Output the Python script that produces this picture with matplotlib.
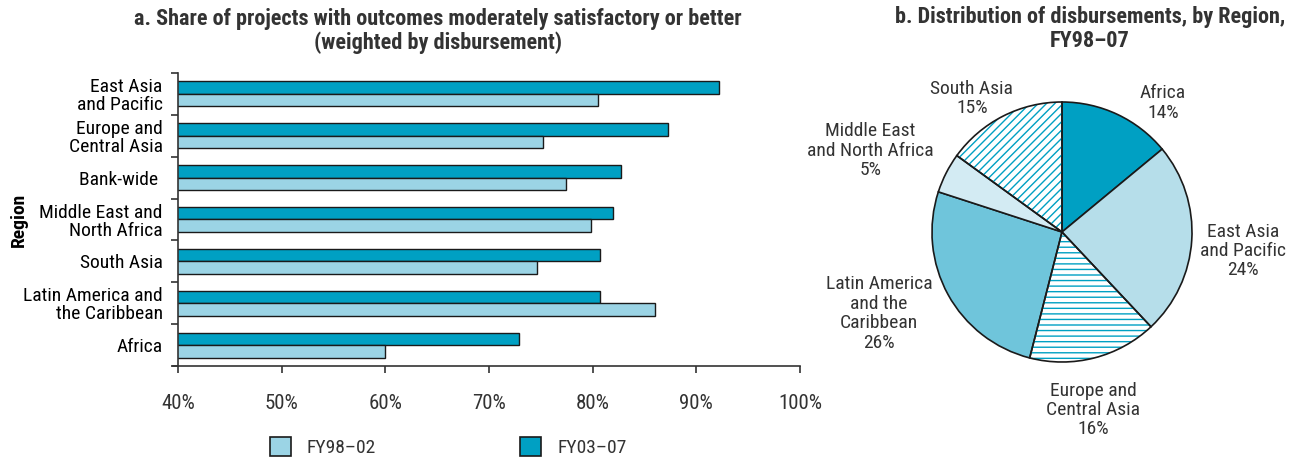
import numpy as np
import matplotlib
matplotlib.use("Agg")
import matplotlib.pyplot as plt
from matplotlib.patches import Wedge, Patch

plt.rcParams["font.family"] = ["Roboto Condensed", "DejaVu Sans"]
plt.rcParams["text.color"] = "#333333"
plt.rcParams["hatch.linewidth"] = 1.0

# ---- panel a data (top to bottom) ----
regions = [
    "East Asia\nand Pacific",
    "Europe and\nCentral Asia",
    "Bank-wide ",
    "Middle East and\nNorth Africa",
    "South Asia",
    "Latin America and\nthe Caribbean",
    "Africa",
]
fy98_02 = [80.5, 75.2, 77.4, 79.8, 74.6, 86.0, 60.0]
fy03_07 = [92.2, 87.3, 82.7, 82.0, 80.7, 80.7, 72.9]
x_ticks = [40, 50, 60, 70, 80, 90, 100]

# ---- panel b data (clockwise from top) ----
pie_labels = [
    "Africa\n14%",
    "East Asia\nand Pacific\n24%",
    "Europe and\nCentral Asia\n16%",
    "Latin America\nand the\nCaribbean\n26%",
    "Middle East\nand North Africa\n5%",
    "South Asia\n15%",
]
pie_shares = [14, 24, 16, 26, 5, 15]

DARK = "#00A0C3"
LIGHT = "#9BD4E5"
pie_colors = ["#00A0C3", "#B6DEEA", "white", "#6FC5DB", "#D3EBF3", "white"]
pie_hatch = [None, None, "---", None, None, "////"]
# label anchor (radius, angle deg) per slice
label_pos = [(1.26, 52), (1.40, -6), (1.39, -80), (1.54, 204), (1.60, 157), (1.24, 124)]

FS = 14
FS_TICK = 15
FS_TITLE = 16
W, H = 1293, 461
fig = plt.figure(figsize=(W / 100, H / 100), dpi=100)

# ---------------- panel a ----------------
ax = fig.add_axes([178 / W, 1 - 366 / H, (800 - 178) / W, (366 - 73) / H])
n = len(regions)
y = np.arange(n)
bh = 0.3
ax.barh(y - bh / 2, fy03_07, height=bh, color=DARK, edgecolor="#1a1a1a", linewidth=1.0)
ax.barh(y + bh / 2, fy98_02, height=bh, color=LIGHT, edgecolor="#1a1a1a", linewidth=1.0)
ax.set_xlim(40, 100)
ax.set_ylim(n - 0.5, -0.5)
ax.set_xticks(x_ticks)
ax.set_xticklabels([f"{v}%" for v in x_ticks], fontsize=FS_TICK)
ax.set_yticks(y)
ax.set_yticklabels(regions, fontsize=FS, linespacing=1.0)
ax.set_yticks(np.arange(n + 1) - 0.5, minor=True)
ax.tick_params(axis="y", which="major", length=0, pad=11)
ax.tick_params(axis="y", which="minor", length=5, width=1.2, color="#333333")
ax.tick_params(axis="x", length=5, width=1.2, pad=15, colors="#333333")
for s in ["top", "right"]:
    ax.spines[s].set_visible(False)
for s in ["left", "bottom"]:
    ax.spines[s].set_linewidth(1.2)
    ax.spines[s].set_color("#333333")
ax.spines["bottom"].set_bounds(39.5, 100)
ax.set_ylabel("Region", fontsize=FS, fontweight="bold")
ax.yaxis.set_label_coords(-0.241, 0.5)
fig.text(438 / W, 1 - 31 / H,
         "a. Share of projects with outcomes moderately satisfactory or better\n(weighted by disbursement)",
         ha="center", va="center", fontsize=FS_TITLE, fontweight="bold", linespacing=1.05)

handles = [Patch(facecolor=LIGHT, edgecolor="#1a1a1a", linewidth=1.2),
           Patch(facecolor=DARK, edgecolor="#1a1a1a", linewidth=1.2)]
fig.legend(handles, ["FY98–02", "FY03–07"], loc="center left",
           bbox_to_anchor=(270 / W, 1 - 447 / H), ncol=2, frameon=False,
           fontsize=FS, handlelength=1.1, handleheight=1.1, handletextpad=0.8,
           columnspacing=7.4, borderpad=0, borderaxespad=0)

# ---------------- panel b ----------------
cx, cy, r = 1062, 232, 130
pax = fig.add_axes([(cx - 230) / W, 0, 460 / W, 1])
wedges, _ = pax.pie(pie_shares, colors=pie_colors, startangle=90, counterclock=False,
                    wedgeprops=dict(edgecolor="#1a1a1a", linewidth=1.2))
for w, h in zip(wedges, pie_hatch):
    if h:
        hw = Wedge(w.center, w.r, w.theta1, w.theta2, facecolor="none",
                   edgecolor=DARK, hatch=h, linewidth=0)
        pax.add_patch(hw)
        w.set_zorder(3)
        w.set_facecolor("none")
        ow = Wedge(w.center, w.r, w.theta1, w.theta2, facecolor="white", linewidth=0, zorder=0)
        pax.add_patch(ow)
for text, (rad, ang) in zip(pie_labels, label_pos):
    a = np.deg2rad(ang)
    pax.text(rad * np.cos(a), rad * np.sin(a), text, ha="center", va="center",
             fontsize=FS, linespacing=1.1)
pax.set_xlim(-230 / r, 230 / r)
pax.set_ylim(-(H - cy) / r, cy / r)
pax.set_aspect("equal", adjustable="datalim")
pax.axis("off")
fig.text(1090 / W, 1 - 29 / H, "b. Distribution of disbursements, by Region,\nFY98–07",
         ha="center", va="center", fontsize=FS_TITLE, fontweight="bold", linespacing=1.12)

fig.savefig("out.png", dpi=100)
